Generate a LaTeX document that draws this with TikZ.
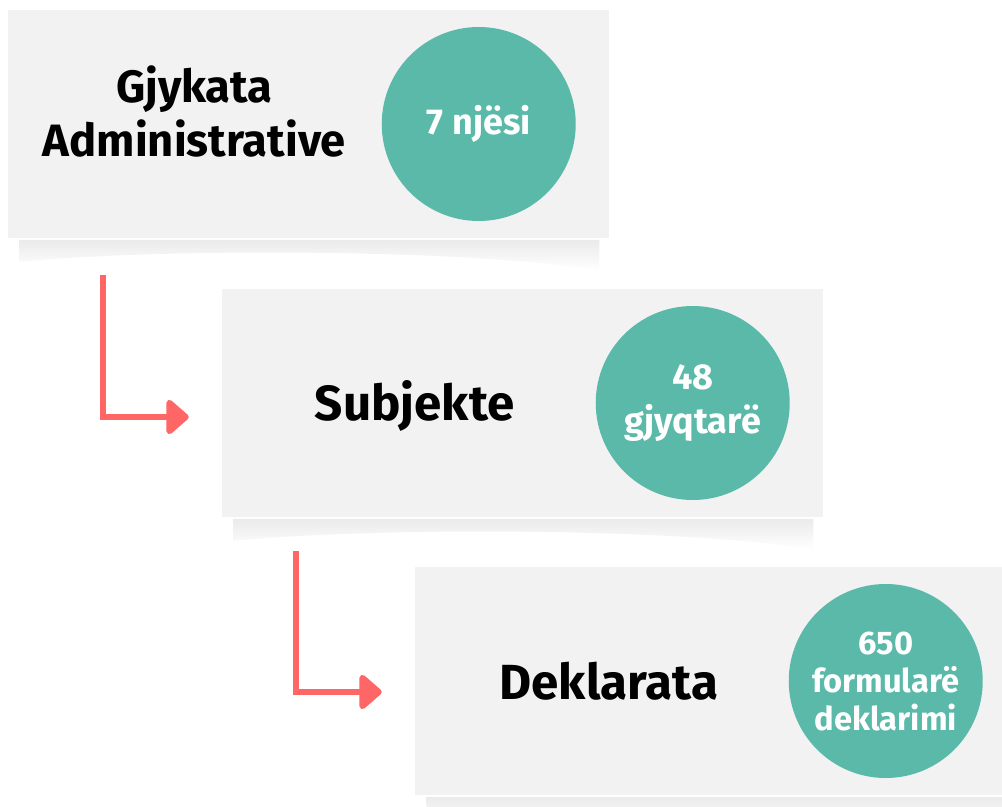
\documentclass[tikz,border=0pt]{standalone}
\usepackage{fontspec}
\setmainfont{Fira Sans}
\usetikzlibrary{calc}
\usetikzlibrary{arrows.meta}
\usetikzlibrary{positioning}
\tikzset{>=latex}
\definecolor{boxgray}{HTML}{F2F2F2}
\definecolor{myteal}{HTML}{5AB9A8}
\definecolor{myred}{HTML}{FF6666}
\tikzstyle{panel}=[fill=boxgray,minimum width=450.75pt,minimum height=171pt,inner sep=0]
\tikzstyle{badge}=[circle,fill=myteal,minimum size=145.5pt,inner sep=0,text=white,
  align=center,font=\bfseries\fontsize{27}{33}\selectfont]
\tikzstyle{title}=[align=center,font=\bfseries\fontsize{37}{40}\selectfont]
\tikzstyle{flow}=[myred,line width=4.5pt,-{Triangle[length=18pt,width=30pt,round]}]
% soft curved shadow below a panel
\newcommand\panelshadow[1]{
  \shade[top color=black!8,bottom color=white]
    ($(#1.south west)+(12,1.5)$) -- ++(0,22)
    .. controls ($(#1.south)+(-150,10)$) and ($(#1.south)+(150,10)$) ..
    ($(#1.south east)+(-10,32)$) -- ($(#1.south east)+(-10,1.5)$) -- cycle;
}

\begin{document}
\begin{tikzpicture}[x=0.75pt,y=-0.75pt]
  \useasboundingbox (0,0) rectangle (1002,806);
  \clip (0,0) rectangle (1002,806);

  % PANELS
  \node[panel] (box1) at (308.5,124) {};
  \node[panel] (box2) at (522.5,403) {};
  \node[panel] (box3) at (715.5,681) {};
  \foreach \b in {box1,box2,box3}{
    \panelshadow{\b}
  }

  % TITLES AND BADGES
  \node[title,font=\bfseries\fontsize{34}{40.5}\selectfont] (title1)
    at ([xshift=140pt,yshift=9pt]box1.west) {Gjykata\\Administrative};
  \node[badge] (badge1) at ([xshift=353.25pt]box1.west) {7 njësi};
  \node[title] (title2) at ([xshift=144.75pt,yshift=-2pt]box2.west) {Subjekte};
  \node[badge] (badge2) at ([xshift=353.25pt]box2.west) {48\\gjyqtarë};
  \node[title] (title3) at ([xshift=145.5pt]box3.west) {Deklarata};
  \node[badge,font=\bfseries\fontsize{24.5}{28.5}\selectfont] (badge3)
    at ([xshift=353.25pt]box3.west) {650\\formularë\\deklarimi};

  % ARROWS
  \coordinate (a1s) at ($(box1.south west)+(95,37)$);
  \coordinate (a1e) at ($(box2.west)+(-33,14)$);
  \coordinate (a2s) at ($(box2.south west)+(74,34)$);
  \coordinate (a2e) at ($(box3.west)+(-33,11)$);
  \draw[flow] (a1s) |- (a1e);
  \draw[flow] (a2s) |- (a2e);

\end{tikzpicture}
\end{document}
